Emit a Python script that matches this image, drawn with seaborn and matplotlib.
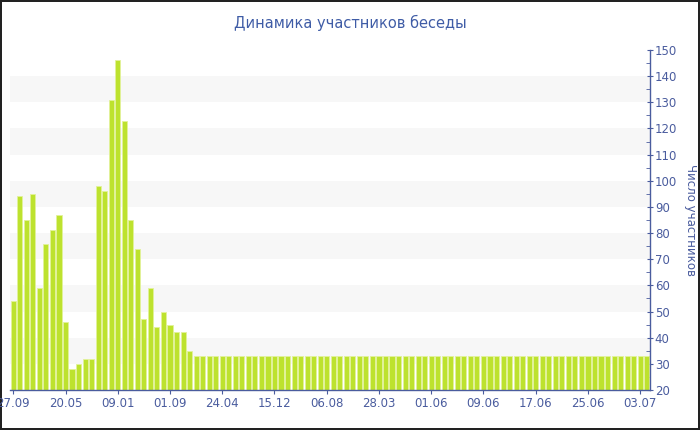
import numpy as np
import pandas as pd
import seaborn as sns
import matplotlib.pyplot as plt
from matplotlib.ticker import MultipleLocator

# число участников по дням
participants = [54, 94, 85, 95, 59, 76, 81, 87, 46, 28,
                30, 32, 32, 98, 96, 131, 146, 123, 85, 74,
                47, 59, 44, 50, 45, 42, 42, 35] + [33] * 70
tick_labels = ["27.09", "20.05", "09.01", "01.09", "24.04", "15.12", "06.08",
               "28.03", "01.06", "09.06", "17.06", "25.06", "03.07"]
tick_step = 8

df = pd.DataFrame({"day": np.arange(len(participants)), "count": participants})

axis_color = "#4a5c9e"
text_color = "#4a5c9e"

sns.set_style("white")
plt.rcParams['font.family'] = ['DejaVu Sans']

fig = plt.figure(figsize=(7, 4.3), dpi=100)
fig.patch.set_edgecolor("#222222")
fig.patch.set_linewidth(1.5)
ax = fig.add_axes([10 / 700, 40 / 430, 640 / 700, 340 / 430])

# серые полосы
for lo in range(30, 150, 20):
    ax.axhspan(lo, lo + 10, color="#f7f7f7", zorder=0, lw=0)

sns.barplot(data=df, x="day", y="count", color="#bde22e", width=0.78,
            edgecolor="#e2f29a", linewidth=0.6, saturation=1, ax=ax, zorder=2)

ax.set_ylim(20, 150)
ax.set_xlim(-0.5, len(participants) - 0.5)
ax.set_xticks(np.arange(0, len(participants), tick_step)[:len(tick_labels)])
ax.set_xticklabels(tick_labels)
ax.set_xlabel("")

ax.yaxis.tick_right()
ax.yaxis.set_label_position("right")
ax.yaxis.set_major_locator(MultipleLocator(10))
ax.yaxis.set_minor_locator(MultipleLocator(5))
ax.set_ylabel("Число участников", rotation=-90, labelpad=14, color=text_color, fontsize=8.5)

for s in ["left", "top"]:
    ax.spines[s].set_visible(False)
for s in ["right", "bottom"]:
    ax.spines[s].set_color(axis_color)
    ax.spines[s].set_linewidth(1)

ax.tick_params(axis="y", which="major", direction="inout", length=5, color=axis_color,
               labelcolor=text_color, labelsize=8.5, pad=1, right=True, left=False)
ax.tick_params(axis="y", which="minor", direction="in", length=3, color=axis_color,
               right=True, left=False)
ax.tick_params(axis="x", which="major", direction="out", length=3, color=axis_color,
               labelcolor=text_color, labelsize=8.5, pad=2, bottom=True)

fig.suptitle("Динамика участников беседы", color="#3f5ca6", fontsize=10.5, y=0.965)

fig.savefig("out.png", dpi=100, edgecolor=fig.get_edgecolor())
